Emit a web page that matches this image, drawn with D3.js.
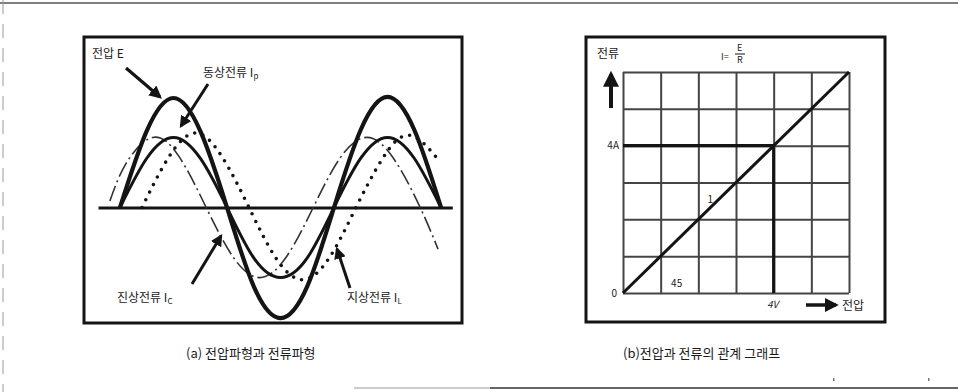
<!DOCTYPE html>
<html><head><meta charset="utf-8">
<script src="https://cdn.jsdelivr.net/npm/d3@7"></script>
<style>
html,body{margin:0;padding:0;background:#fff;}
text{font-family:"Noto Sans CJK KR","Noto Sans",sans-serif;fill:#1a1a1a;}
</style></head>
<body>
<svg id="c" width="958" height="392"></svg>
<script>
// ---- data (a): waveforms, [phase in degrees, value] ----
const voltageE   = [[0,0],[45,70],[90,100],[135,70],[180,0],[225,-72],[270,-101],[315,-72],[360,0],[405,71],[450,101],[495,71],[540,0]];
const currentIp  = [[0,0],[45,45],[90,64],[135,45],[180,0],[225,-46],[270,-64],[315,-46],[360,0],[405,45],[450,64],[495,45],[540,0]];
const currentIc  = [[-17,6],[10,40],[55,64],[100,46],[145,0],[190,-45],[235,-64],[280,-45],[325,0],[370,45],[415,64],[460,45],[505,0],[535,-38]];
const currentIL  = [[37,0],[82,46],[127,68],[172,46],[217,0],[262,-46],[307,-66],[352,-46],[397,0],[442,45],[487,66],[538,42]];
const axisPhase  = [-37,559];
// ---- data (b): I = E/R ----
const gridTicks  = [0,1,2,3,4,5,6];
const lineIE     = [[0,0],[6,6]];
const markI      = [[0,4],[4,4]];
const markE      = [[4,4],[4,0]];
const labels = {E:"전압 E", Ip:"동상전류 I", Ic:"진상전류 I", IL:"지상전류 I",
  capA:"(a) 전압파형과 전류파형", capB:"(b)전압과 전류의 관계 그래프",
  yName:"전류", xName:"전압", zero:"0", fourA:"4A", fourV:"4V", deg:"45", one:"1"};

const svg = d3.select("#c");
const ink = "#141414";

// outer frame pieces
svg.append("line").attr("x1",0).attr("x2",958).attr("y1",3).attr("y2",3).attr("stroke","#555").attr("stroke-width",1.5);
svg.append("line").attr("x1",3).attr("x2",3).attr("y1",0).attr("y2",392).attr("stroke","#999").attr("stroke-width",1).attr("stroke-dasharray","14,10");
svg.append("line").attr("x1",354).attr("x2",490).attr("y1",388).attr("y2",388).attr("stroke","#bbb").attr("stroke-width",1.5);
svg.append("line").attr("x1",490).attr("x2",958).attr("y1",388).attr("y2",388).attr("stroke","#333").attr("stroke-width",1.5);

// defs: arrow head
const defs = svg.append("defs");
defs.append("marker").attr("id","ah").attr("viewBox","0 0 10 10").attr("refX",8).attr("refY",5)
  .attr("markerWidth",4).attr("markerHeight",4).attr("orient","auto")
  .append("path").attr("d","M0,0L10,5L0,10Z").attr("fill",ink);

// ===== panel (a) =====
svg.append("rect").attr("x",84).attr("y",37).attr("width",378).attr("height",286)
  .attr("fill","none").attr("stroke",ink).attr("stroke-width",3);

const xa = d3.scaleLinear().domain([0,540]).range([120,441]);
const ya = d3.scaleLinear().domain([-100,100]).range([317,98]);
const lineA = d3.line().x(d=>xa(d[0])).y(d=>ya(d[1])).curve(d3.curveNatural);

const ga = svg.append("g");
// baseline axis via d3 axis
const baseAxis = d3.axisBottom(d3.scaleLinear().domain(axisPhase).range([xa(axisPhase[0]),xa(axisPhase[1])])).ticks(0).tickSizeOuter(0);
ga.append("g").attr("transform",`translate(0,${ya(0)})`).call(baseAxis)
  .call(g=>g.select(".domain").attr("stroke",ink).attr("stroke-width",3));

ga.append("path").datum(currentIc).attr("d",lineA).attr("fill","none").attr("stroke","#333")
  .attr("stroke-width",1.6).attr("stroke-dasharray","16,4,2,4");
ga.append("path").datum(currentIL).attr("d",lineA).attr("fill","none").attr("stroke",ink)
  .attr("stroke-width",3.6).attr("stroke-linecap","round").attr("stroke-dasharray","0,8.5");
ga.append("path").datum(currentIp).attr("d",lineA).attr("fill","none").attr("stroke",ink).attr("stroke-width",3);
ga.append("path").datum(voltageE).attr("d",lineA).attr("fill","none").attr("stroke",ink).attr("stroke-width",4.2);

function arrow(x1,y1,x2,y2,w){
  svg.append("line").attr("x1",x1).attr("y1",y1).attr("x2",x2).attr("y2",y2)
    .attr("stroke",ink).attr("stroke-width",w||3).attr("marker-end","url(#ah)");
}
function txt(x,y,s,size,anchor){
  return svg.append("text").attr("x",x).attr("y",y).attr("font-size",size||12)
    .attr("text-anchor",anchor||"start").text(s);
}
txt(92,58,labels.E,12);
arrow(126,68,160,97,3.2);
const tIp = txt(203,77,labels.Ip,12); tIp.append("tspan").attr("font-size",8).attr("dy",2).text("p");
arrow(208,84,181,126,3);
const tIc = txt(117,302,labels.Ic,12); tIc.append("tspan").attr("font-size",8).attr("dy",2).text("C");
arrow(192,284,221,236,3);
const tIL = txt(347,302,labels.IL,12); tIL.append("tspan").attr("font-size",8).attr("dy",2).text("L");
arrow(350,288,337,249,3);

txt(186,358,labels.capA,13);

// ===== panel (b) =====
svg.append("rect").attr("x",586).attr("y",37).attr("width",299).attr("height",285)
  .attr("fill","none").attr("stroke",ink).attr("stroke-width",3);

const xb = d3.scaleLinear().domain([0,6]).range([623,849]);
const yb = d3.scaleLinear().domain([0,6]).range([293,72]);
const gb = svg.append("g");
gb.append("g").attr("transform",`translate(0,${yb(0)})`)
  .call(d3.axisBottom(xb).tickValues(gridTicks).tickSize(-(yb(0)-yb(6))).tickFormat(""))
  .call(g=>{g.select(".domain").remove(); g.selectAll(".tick line").attr("stroke","#444").attr("stroke-width",2);});
gb.append("g").attr("transform",`translate(${xb(0)},0)`)
  .call(d3.axisLeft(yb).tickValues(gridTicks).tickSize(-(xb(6)-xb(0))).tickFormat(""))
  .call(g=>{g.select(".domain").remove(); g.selectAll(".tick line").attr("stroke","#444").attr("stroke-width",2);});

const lineB = d3.line().x(d=>xb(d[0])).y(d=>yb(d[1]));
gb.append("path").datum(lineIE).attr("d",lineB).attr("stroke",ink).attr("stroke-width",3).attr("fill","none");
gb.append("path").datum(markI).attr("d",lineB).attr("stroke",ink).attr("stroke-width",3.2).attr("fill","none");
gb.append("path").datum(markE).attr("d",lineB).attr("stroke",ink).attr("stroke-width",3.2).attr("fill","none");

txt(617,297,labels.zero,10,"end");
txt(619,149,labels.fourA,10,"end");
txt(xb(4)-1,308,labels.fourV,10,"middle").attr("font-style","italic");
txt(xb(1)+16,287,labels.deg,10,"middle");
txt(xb(2)+12,203,labels.one,10,"middle");

txt(597,58,labels.yName,12);
arrow(611,108,611,74,4);
arrow(806,305,836,305,3.5);
txt(842,310,labels.xName,12);

// formula I = E/R
txt(721,60,"I=",9);
txt(737,51,"E",9);
svg.append("line").attr("x1",735).attr("x2",745).attr("y1",54).attr("y2",54).attr("stroke",ink).attr("stroke-width",1);
txt(737,63,"R",9);

txt(623,358,labels.capB,13);

// specks
svg.append("rect").attr("x",833).attr("y",378).attr("width",1.5).attr("height",3).attr("fill","#777");
svg.append("rect").attr("x",928).attr("y",378).attr("width",1.5).attr("height",3).attr("fill","#777");
</script>
</body></html>
